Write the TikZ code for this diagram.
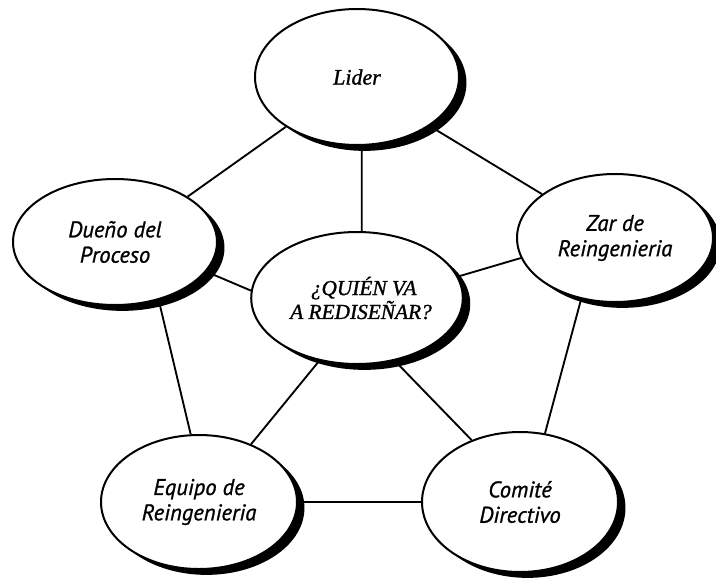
\documentclass[tikz,border=0pt]{standalone}
\usepackage{fontspec}
\setmainfont{Liberation Serif}[ItalicFeatures={FakeBold=1.2}]
\newfontfamily\humanist{PT Sans}[ItalicFeatures={FakeBold=1.0}]
\usetikzlibrary{shapes.geometric,shadows}

\tikzset{
  bubble/.style={ellipse, draw=black, line width=1.5pt, fill=white, inner sep=0pt,
    align=center,
    drop shadow={shadow xshift=5.6pt, shadow yshift=-4.4pt, fill=black, opacity=1}},
  serifbubble/.style={bubble, font=\itshape\fontsize{16.5}{18}\selectfont},
  sansbubble/.style={bubble, font=\humanist\itshape\fontsize{17}{19}\selectfont},
  link/.style={line width=1.4pt, black}
}

\begin{document}
\begin{tikzpicture}[x=0.75pt, y=-0.75pt]
  \useasboundingbox (0,0) rectangle (716,582);

  % the six roles
  \node[serifbubble, minimum width=153pt, minimum height=99pt,
        font=\itshape\fontsize{16}{15}\selectfont] (quien) at (357,298)
        {\hspace*{10pt}¿QUIÉN VA\\\hspace*{6pt}A REDISEÑAR?};
  \node[serifbubble, minimum width=153pt, minimum height=102pt] (lider) at (357,77) {Lider};
  \node[sansbubble, minimum width=153pt, minimum height=94.5pt] (dueno) at (115,242)
        {Dueño del\\Proceso};
  \node[sansbubble, minimum width=147pt, minimum height=96pt] (zar) at (615,238)
        {Zar de\\Reingenieria};
  \node[sansbubble, minimum width=147pt, minimum height=100.5pt] (equipo) at (199,502)
        {Equipo de\\Reingenieria};
  \node[sansbubble, minimum width=147pt, minimum height=105pt] (comite) at (520,502)
        {Comité\\Directivo};

  % connections
  \draw[link] (lider.215) -- (dueno.32);
  \draw[link] (lider.-34) -- (zar.149);
  \draw[link] (lider.-86) -- (quien.86);
  \draw[link] (dueno.-18) -- (quien.176);
  \draw[link] (zar.-168) -- (quien.12);
  \draw[link] (dueno.-53) -- (equipo.97);
  \draw[link] (zar.-119) -- (comite.70);
  \draw[link] (quien.239) -- (equipo.48);
  \draw[link] (quien.-59) -- (comite.128);
  \draw[link] (equipo.east) -- (comite.west);
\end{tikzpicture}
\end{document}
